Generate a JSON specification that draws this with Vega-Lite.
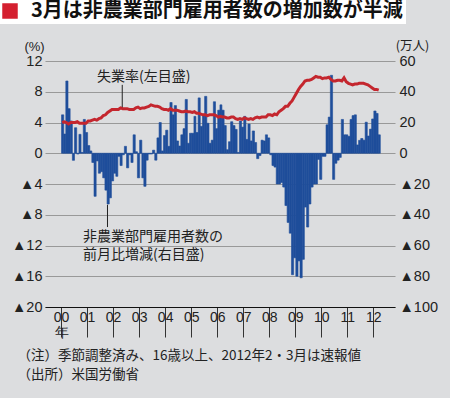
{
  "$schema": "https://vega.github.io/schema/vega-lite/v6.json",
  "width": 350,
  "height": 246,
  "autosize": {"type": "none"},
  "padding": {"left": 45, "top": 61, "right": 55, "bottom": 91},
  "background": "#dcdddf",
  "config": {"view": {"stroke": null}, "font": "Noto Sans CJK JP"},
  "datasets": {
    "monthly": [
      {"m":"2000-01-01","j":25,"u":4.0},{"m":"2000-02-01","j":12.5,"u":4.1},{"m":"2000-03-01","j":47,"u":4.0},{"m":"2000-04-01","j":29,"u":3.8},{"m":"2000-05-01","j":21,"u":4.0},{"m":"2000-06-01","j":-4.6,"u":4.0},{"m":"2000-07-01","j":16.6,"u":4.0},{"m":"2000-08-01","j":-0.5,"u":4.1},{"m":"2000-09-01","j":12.3,"u":3.9},{"m":"2000-10-01","j":0.5,"u":3.9},{"m":"2000-11-01","j":22,"u":3.9},{"m":"2000-12-01","j":13.5,"u":3.9},
      {"m":"2001-01-01","j":5,"u":4.2},{"m":"2001-02-01","j":1.5,"u":4.2},{"m":"2001-03-01","j":-6,"u":4.3},{"m":"2001-04-01","j":-28,"u":4.4},{"m":"2001-05-01","j":-5,"u":4.3},{"m":"2001-06-01","j":-13,"u":4.5},{"m":"2001-07-01","j":-12,"u":4.6},{"m":"2001-08-01","j":-16,"u":4.9},{"m":"2001-09-01","j":-24,"u":5.0},{"m":"2001-10-01","j":-33,"u":5.3},{"m":"2001-11-01","j":-29,"u":5.5},{"m":"2001-12-01","j":-18,"u":5.7},
      {"m":"2002-01-01","j":-13,"u":5.7},{"m":"2002-02-01","j":-15,"u":5.7},{"m":"2002-03-01","j":-2,"u":5.7},{"m":"2002-04-01","j":-8,"u":5.9},{"m":"2002-05-01","j":-1,"u":5.8},{"m":"2002-06-01","j":4.5,"u":5.8},{"m":"2002-07-01","j":-9.5,"u":5.8},{"m":"2002-08-01","j":-1,"u":5.7},{"m":"2002-09-01","j":-6,"u":5.7},{"m":"2002-10-01","j":12,"u":5.7},{"m":"2002-11-01","j":1,"u":5.9},{"m":"2002-12-01","j":-16,"u":6.0},
      {"m":"2003-01-01","j":8.5,"u":5.8},{"m":"2003-02-01","j":-16,"u":5.9},{"m":"2003-03-01","j":-21.5,"u":5.9},{"m":"2003-04-01","j":-4.5,"u":6.0},{"m":"2003-05-01","j":-0.5,"u":6.1},{"m":"2003-06-01","j":-0.5,"u":6.3},{"m":"2003-07-01","j":2,"u":6.2},{"m":"2003-08-01","j":-4.5,"u":6.1},{"m":"2003-09-01","j":10,"u":6.1},{"m":"2003-10-01","j":20,"u":6.0},{"m":"2003-11-01","j":1.5,"u":5.8},{"m":"2003-12-01","j":11.5,"u":5.7},
      {"m":"2004-01-01","j":15,"u":5.7},{"m":"2004-02-01","j":4.5,"u":5.6},{"m":"2004-03-01","j":33,"u":5.8},{"m":"2004-04-01","j":25,"u":5.6},{"m":"2004-05-01","j":31,"u":5.6},{"m":"2004-06-01","j":8,"u":5.6},{"m":"2004-07-01","j":4.7,"u":5.5},{"m":"2004-08-01","j":12,"u":5.4},{"m":"2004-09-01","j":16,"u":5.4},{"m":"2004-10-01","j":35,"u":5.5},{"m":"2004-11-01","j":6.5,"u":5.4},{"m":"2004-12-01","j":13,"u":5.4},
      {"m":"2005-01-01","j":13,"u":5.3},{"m":"2005-02-01","j":24,"u":5.4},{"m":"2005-03-01","j":13.5,"u":5.2},{"m":"2005-04-01","j":36,"u":5.2},{"m":"2005-05-01","j":17.5,"u":5.1},{"m":"2005-06-01","j":24.5,"u":5.0},{"m":"2005-07-01","j":37,"u":5.0},{"m":"2005-08-01","j":19.5,"u":4.9},{"m":"2005-09-01","j":6.5,"u":5.0},{"m":"2005-10-01","j":8.5,"u":5.0},{"m":"2005-11-01","j":33.5,"u":5.0},{"m":"2005-12-01","j":16,"u":4.9},
      {"m":"2006-01-01","j":28,"u":4.7},{"m":"2006-02-01","j":31.5,"u":4.8},{"m":"2006-03-01","j":28,"u":4.7},{"m":"2006-04-01","j":18,"u":4.7},{"m":"2006-05-01","j":2.3,"u":4.6},{"m":"2006-06-01","j":7.5,"u":4.6},{"m":"2006-07-01","j":20.5,"u":4.7},{"m":"2006-08-01","j":18,"u":4.7},{"m":"2006-09-01","j":15.5,"u":4.5},{"m":"2006-10-01","j":0.5,"u":4.4},{"m":"2006-11-01","j":21,"u":4.5},{"m":"2006-12-01","j":17,"u":4.4},
      {"m":"2007-01-01","j":24,"u":4.6},{"m":"2007-02-01","j":9,"u":4.5},{"m":"2007-03-01","j":19,"u":4.4},{"m":"2007-04-01","j":8,"u":4.5},{"m":"2007-05-01","j":14.5,"u":4.4},{"m":"2007-06-01","j":7,"u":4.6},{"m":"2007-07-01","j":-3.5,"u":4.7},{"m":"2007-08-01","j":-1.5,"u":4.6},{"m":"2007-09-01","j":8.5,"u":4.7},{"m":"2007-10-01","j":8,"u":4.7},{"m":"2007-11-01","j":12,"u":4.7},{"m":"2007-12-01","j":10,"u":5.0},
      {"m":"2008-01-01","j":-1,"u":5.0},{"m":"2008-02-01","j":-8,"u":4.9},{"m":"2008-03-01","j":-9,"u":5.1},{"m":"2008-04-01","j":-20,"u":5.0},{"m":"2008-05-01","j":-20,"u":5.4},{"m":"2008-06-01","j":-19,"u":5.6},{"m":"2008-07-01","j":-22,"u":5.8},{"m":"2008-08-01","j":-34,"u":6.1},{"m":"2008-09-01","j":-45,"u":6.1},{"m":"2008-10-01","j":-52,"u":6.5},{"m":"2008-11-01","j":-79,"u":6.8},{"m":"2008-12-01","j":-68,"u":7.3},
      {"m":"2009-01-01","j":-80,"u":7.8},{"m":"2009-02-01","j":-70,"u":8.3},{"m":"2009-03-01","j":-81,"u":8.7},{"m":"2009-04-01","j":-69,"u":9.0},{"m":"2009-05-01","j":-35,"u":9.4},{"m":"2009-06-01","j":-48,"u":9.5},{"m":"2009-07-01","j":-33,"u":9.5},{"m":"2009-08-01","j":-22,"u":9.6},{"m":"2009-09-01","j":-20,"u":9.8},{"m":"2009-10-01","j":-20,"u":10.0},{"m":"2009-11-01","j":-4,"u":9.9},{"m":"2009-12-01","j":-17,"u":9.9},
      {"m":"2010-01-01","j":-2,"u":9.7},{"m":"2010-02-01","j":-2,"u":9.8},{"m":"2010-03-01","j":18.5,"u":9.8},{"m":"2010-04-01","j":23.5,"u":9.9},{"m":"2010-05-01","j":50.7,"u":9.6},{"m":"2010-06-01","j":-17,"u":9.4},{"m":"2010-07-01","j":-6.5,"u":9.4},{"m":"2010-08-01","j":-4.5,"u":9.5},{"m":"2010-09-01","j":-2.7,"u":9.5},{"m":"2010-10-01","j":22,"u":9.4},{"m":"2010-11-01","j":12,"u":9.8},{"m":"2010-12-01","j":12,"u":9.3},
      {"m":"2011-01-01","j":11,"u":9.1},{"m":"2011-02-01","j":22,"u":9.0},{"m":"2011-03-01","j":24.5,"u":8.9},{"m":"2011-04-01","j":25,"u":9.0},{"m":"2011-05-01","j":5.4,"u":9.0},{"m":"2011-06-01","j":8.4,"u":9.1},{"m":"2011-07-01","j":9.6,"u":9.1},{"m":"2011-08-01","j":8.5,"u":9.1},{"m":"2011-09-01","j":20.2,"u":9.0},{"m":"2011-10-01","j":11.2,"u":8.9},{"m":"2011-11-01","j":15.7,"u":8.7},{"m":"2011-12-01","j":22.3,"u":8.5},
      {"m":"2012-01-01","j":27.5,"u":8.3},{"m":"2012-02-01","j":25.9,"u":8.3},{"m":"2012-03-01","j":12,"u":8.2}
    ],
    "labels": [
      {"d":"2001-05-21","v":9.93,"t":"失業率(左目盛)"},
      {"d":"2000-11-06","v":-10.83,"t":"非農業部門雇用者数の"},
      {"d":"2000-11-06","v":-13.3,"t":"前月比増減(右目盛)"}
    ],
    "leaders": [
      {"d":"2002-05-09","v1":8.9,"v2":6.0},
      {"d":"2001-10-14","v1":-6.7,"v2":-9.6}
    ]
  },
  "layer": [
    {
      "data": {"name": "monthly"},
      "mark": {"type": "bar", "color": "#1f4e9b", "binSpacing": 0, "stroke": "#1f4e9b", "strokeWidth": 0.6},
      "encoding": {
        "x": {
          "field": "m", "timeUnit": "utcyearmonth", "type": "temporal",
          "scale": {"type": "utc", "domain": [927244800000, 1351641600000]},
          "axis": {
            "values": [946684800000, 978307200000, 1009843200000, 1041379200000, 1072915200000, 1104537600000, 1136073600000, 1167609600000, 1199145600000, 1230768000000, 1262304000000, 1293840000000, 1325376000000],
            "labelExpr": "utcyear(datum.value) == 2000 ? ['00','年'] : utcFormat(datum.value, '%y')",
            "labelAlign": "center", "labelDx": 13, "labelPadding": -27, "labelBaseline": "top",
            "labelFont": "Liberation Sans", "labelFontSize": 14, "labelColor": "#222", "labelLineHeight": 15,
            "labelFlush": false, "labelOverlap": false,
            "tickSize": 30, "tickColor": "#333", "tickWidth": 1,
            "domainColor": "#111", "domainWidth": 1, "grid": false,
            "title": ["（注）季節調整済み、16歳以上、2012年2・3月は速報値", "（出所）米国労働省"],
            "titleX": -28, "titleY": 41, "titleAlign": "left", "titleAnchor": "start", "titleBaseline": "top",
            "titleFont": "Noto Sans CJK JP", "titleFontSize": 13.5, "titleFontWeight": "normal", "titleLineHeight": 19, "titleColor": "#222"
          }
        },
        "y": {
          "field": "j", "type": "quantitative",
          "scale": {"domain": [-100, 60], "nice": false, "zero": false},
          "axis": {
            "orient": "right", "values": [-100, -80, -60, -40, -20, 0, 20, 40, 60],
            "grid": false, "ticks": false, "domain": false, "labelPadding": 4, "labelFlush": false, "labelOverlap": false,
            "labelFont": "Liberation Sans", "labelFontSize": 14.5, "labelColor": "#222",
            "labelExpr": "datum.value < 0 ? '▲' + (-datum.value) : '' + datum.value",
            "title": "(万人)", "titleAngle": 0, "titleX": 17, "titleY": -16, "titleAlign": "center", "titleBaseline": "middle",
            "titleFont": "Noto Sans CJK JP", "titleFontSize": 12.5, "titleFontWeight": "normal", "titleColor": "#222"
          }
        }
      }
    },
    {
      "layer": [
        {
          "data": {"name": "monthly"},
          "mark": {"type": "line", "strokeWidth": 3},
          "encoding": {
            "x": {"field": "m", "timeUnit": "utcyearmonth", "type": "temporal", "bandPosition": 0.5, "scale": {"type": "utc"},
              "axis": {
                "values": [946684800000, 978307200000, 1009843200000, 1041379200000, 1072915200000, 1104537600000, 1136073600000, 1167609600000, 1199145600000, 1230768000000, 1262304000000, 1293840000000, 1325376000000],
                "labelExpr": "utcyear(datum.value) == 2000 ? ['00','年'] : utcFormat(datum.value, '%y')",
                "labelAlign": "center", "labelDx": 13, "labelPadding": -27, "labelBaseline": "top",
                "labelFont": "Liberation Sans", "labelFontSize": 14, "labelColor": "#222", "labelLineHeight": 15,
                "labelFlush": false, "labelOverlap": false,
                "tickSize": 30, "tickColor": "#333", "tickWidth": 1,
                "domainColor": "#111", "domainWidth": 1, "grid": false,
                "title": ["（注）季節調整済み、16歳以上、2012年2・3月は速報値", "（出所）米国労働省"],
                "titleX": -28, "titleY": 41, "titleAlign": "left", "titleAnchor": "start", "titleBaseline": "top",
                "titleFont": "Noto Sans CJK JP", "titleFontSize": 13.5, "titleFontWeight": "normal", "titleLineHeight": 19, "titleColor": "#222"
              }
            },
            "y": {
              "field": "u", "type": "quantitative",
              "scale": {"domain": [-20, 12], "nice": false, "zero": false},
              "axis": {
                "orient": "left", "values": [-20, -16, -12, -8, -4, 0, 4, 8, 12],
                "grid": true, "gridColor": "#999", "gridWidth": 1, "ticks": false, "domain": false,
                "labelPadding": 3, "labelFlush": false, "labelOverlap": false,
                "labelFont": "Liberation Sans", "labelFontSize": 14.5, "labelColor": "#222",
                "labelExpr": "datum.value < 0 ? '▲' + (-datum.value) : '' + datum.value",
                "title": "(%)", "titleAngle": 0, "titleX": -11, "titleY": -15, "titleAlign": "center", "titleBaseline": "middle",
                "titleFont": "Liberation Sans", "titleFontSize": 13, "titleFontWeight": "normal", "titleColor": "#222"
              }
            },
            "color": {
              "datum": "3月は非農業部門雇用者数の増加数が半減\u00a0\u00a0\u00a0\u00a0\u00a0\u00a0\u00a0\u00a0",
              "type": "nominal",
              "scale": {"range": ["#c4262e"]},
              "legend": {
                "orient": "none", "legendX": -48, "legendY": -63, "title": null,
                "symbolType": "square", "symbolSize": 240, "symbolFillColor": "#d42030", "symbolStrokeWidth": 0,
                "labelFont": "Noto Sans CJK JP", "labelFontSize": 20, "labelFontWeight": "bold", "labelColor": "#111",
                "labelLimit": 1000, "labelOffset": 11, "padding": 3, "fillColor": "#ffffff"
              }
            }
          }
        },
        {
          "mark": {"type": "rule", "color": "#333", "strokeWidth": 1.2},
          "encoding": {"y": {"datum": 0, "type": "quantitative",
              "axis": {
                "orient": "left", "values": [-20, -16, -12, -8, -4, 0, 4, 8, 12],
                "grid": true, "gridColor": "#999", "gridWidth": 1, "ticks": false, "domain": false,
                "labelPadding": 3, "labelFlush": false, "labelOverlap": false,
                "labelFont": "Liberation Sans", "labelFontSize": 14.5, "labelColor": "#222",
                "labelExpr": "datum.value < 0 ? '▲' + (-datum.value) : '' + datum.value",
                "title": "(%)", "titleAngle": 0, "titleX": -11, "titleY": -15, "titleAlign": "center", "titleBaseline": "middle",
                "titleFont": "Liberation Sans", "titleFontSize": 13, "titleFontWeight": "normal", "titleColor": "#222"
              }}}
        },
        {
          "data": {"name": "leaders"},
          "mark": {"type": "rule", "color": "#222", "strokeWidth": 1},
          "encoding": {
            "x": {"field": "d", "type": "temporal", "scale": {"type": "utc"},
              "axis": {
                "values": [946684800000, 978307200000, 1009843200000, 1041379200000, 1072915200000, 1104537600000, 1136073600000, 1167609600000, 1199145600000, 1230768000000, 1262304000000, 1293840000000, 1325376000000],
                "labelExpr": "utcyear(datum.value) == 2000 ? ['00','年'] : utcFormat(datum.value, '%y')",
                "labelAlign": "center", "labelDx": 13, "labelPadding": -27, "labelBaseline": "top",
                "labelFont": "Liberation Sans", "labelFontSize": 14, "labelColor": "#222", "labelLineHeight": 15,
                "labelFlush": false, "labelOverlap": false,
                "tickSize": 30, "tickColor": "#333", "tickWidth": 1,
                "domainColor": "#111", "domainWidth": 1, "grid": false,
                "title": ["（注）季節調整済み、16歳以上、2012年2・3月は速報値", "（出所）米国労働省"],
                "titleX": -28, "titleY": 41, "titleAlign": "left", "titleAnchor": "start", "titleBaseline": "top",
                "titleFont": "Noto Sans CJK JP", "titleFontSize": 13.5, "titleFontWeight": "normal", "titleLineHeight": 19, "titleColor": "#222"
              }
            },
            "y": {"field": "v1", "type": "quantitative",
              "axis": {
                "orient": "left", "values": [-20, -16, -12, -8, -4, 0, 4, 8, 12],
                "grid": true, "gridColor": "#999", "gridWidth": 1, "ticks": false, "domain": false,
                "labelPadding": 3, "labelFlush": false, "labelOverlap": false,
                "labelFont": "Liberation Sans", "labelFontSize": 14.5, "labelColor": "#222",
                "labelExpr": "datum.value < 0 ? '▲' + (-datum.value) : '' + datum.value",
                "title": "(%)", "titleAngle": 0, "titleX": -11, "titleY": -15, "titleAlign": "center", "titleBaseline": "middle",
                "titleFont": "Liberation Sans", "titleFontSize": 13, "titleFontWeight": "normal", "titleColor": "#222"
              }},
            "y2": {"field": "v2"}
          }
        },
        {
          "data": {"name": "labels"},
          "mark": {"type": "text", "align": "left", "baseline": "middle", "fontSize": 14, "color": "#222", "font": "Noto Sans CJK JP"},
          "encoding": {
            "x": {"field": "d", "type": "temporal", "scale": {"type": "utc"},
              "axis": {
                "values": [946684800000, 978307200000, 1009843200000, 1041379200000, 1072915200000, 1104537600000, 1136073600000, 1167609600000, 1199145600000, 1230768000000, 1262304000000, 1293840000000, 1325376000000],
                "labelExpr": "utcyear(datum.value) == 2000 ? ['00','年'] : utcFormat(datum.value, '%y')",
                "labelAlign": "center", "labelDx": 13, "labelPadding": -27, "labelBaseline": "top",
                "labelFont": "Liberation Sans", "labelFontSize": 14, "labelColor": "#222", "labelLineHeight": 15,
                "labelFlush": false, "labelOverlap": false,
                "tickSize": 30, "tickColor": "#333", "tickWidth": 1,
                "domainColor": "#111", "domainWidth": 1, "grid": false,
                "title": ["（注）季節調整済み、16歳以上、2012年2・3月は速報値", "（出所）米国労働省"],
                "titleX": -28, "titleY": 41, "titleAlign": "left", "titleAnchor": "start", "titleBaseline": "top",
                "titleFont": "Noto Sans CJK JP", "titleFontSize": 13.5, "titleFontWeight": "normal", "titleLineHeight": 19, "titleColor": "#222"
              }
            },
            "y": {"field": "v", "type": "quantitative",
              "axis": {
                "orient": "left", "values": [-20, -16, -12, -8, -4, 0, 4, 8, 12],
                "grid": true, "gridColor": "#999", "gridWidth": 1, "ticks": false, "domain": false,
                "labelPadding": 3, "labelFlush": false, "labelOverlap": false,
                "labelFont": "Liberation Sans", "labelFontSize": 14.5, "labelColor": "#222",
                "labelExpr": "datum.value < 0 ? '▲' + (-datum.value) : '' + datum.value",
                "title": "(%)", "titleAngle": 0, "titleX": -11, "titleY": -15, "titleAlign": "center", "titleBaseline": "middle",
                "titleFont": "Liberation Sans", "titleFontSize": 13, "titleFontWeight": "normal", "titleColor": "#222"
              }},
            "text": {"field": "t"}
          }
        }
      ]
    }
  ],
  "resolve": {"scale": {"y": "independent"}, "axis": {"y": "independent"}}
}
